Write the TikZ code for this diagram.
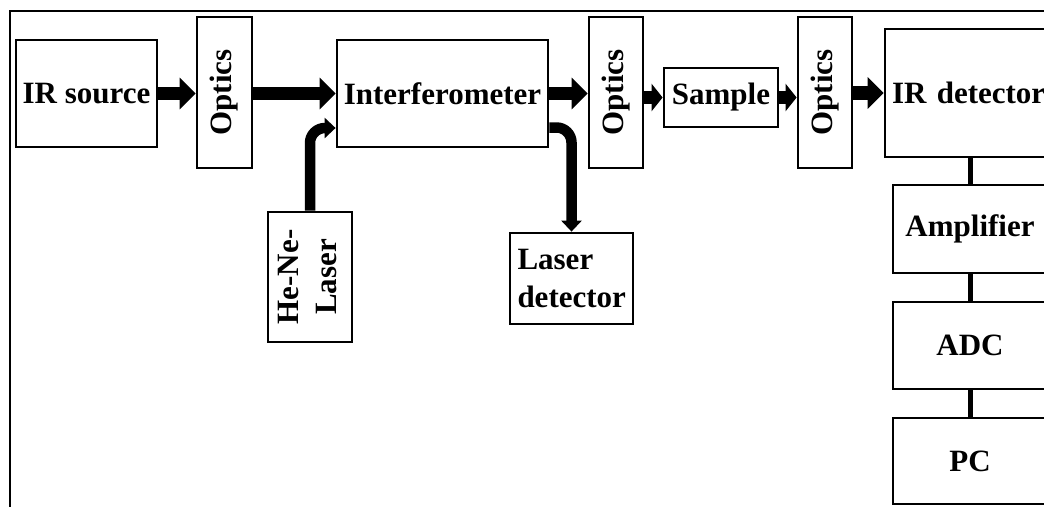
\documentclass[tikz,border=0pt]{standalone}
\usepackage{fontspec}
\usepackage{graphicx}
\setmainfont{Liberation Serif}
\usetikzlibrary{arrows.meta}
\begin{document}
\begin{tikzpicture}[x=1pt,y=-1pt,
  box/.style={draw, line width=2.8pt, inner sep=0pt, align=center,
    font=\fontsize{31}{38}\selectfont\bfseries},
  bigarrow/.style={line width=13.5pt, -{Triangle[length=16pt,width=31pt]}},
  smallarrow/.style={line width=13pt, -{Triangle[length=11pt,width=27pt]}},
  thinarrow/.style={line width=10.5pt, -{Triangle[length=11pt,width=20pt]}, rounded corners=15pt},
  link/.style={line width=5pt},
  frameline/.style={line width=2pt}]
\useasboundingbox (0,0) rectangle (1044,506);
\clip (0,0) rectangle (1044,506);
\fill[white] (0,0) rectangle (1044,506);

\coordinate (f1) at (10,510);
\coordinate (f2) at (10,11);
\coordinate (f3) at (1050,11);
\draw[frameline] (f1) -- (f2) -- (f3);

\node[box, minimum width=141pt, minimum height=107pt] (irs) at (86.5,93.5) {IR source};
\node[box, minimum width=55pt, minimum height=151pt] (opt1) at (224.5,92.5) {\rotatebox{90}{Optics}};
\node[box, minimum width=211pt, minimum height=107pt] (interf) at (442.5,93.5) {Interferometer};
\node[box, minimum width=54pt, minimum height=151pt] (opt2) at (616,92.5) {\rotatebox{90}{Optics}};
\node[box, minimum width=114pt, minimum height=59pt] (sample) at (721,97.5) {Sample};
\node[box, minimum width=54pt, minimum height=151pt] (opt3) at (825,92.5) {\rotatebox{90}{Optics}};
\node[box, text width=172pt, inner xsep=7pt, align=left, minimum height=128pt] (ird) at (978,93) {IR detector};
\node[box, minimum width=154pt, minimum height=88pt] (amp) at (970,229) {Amplifier};
\node[box, minimum width=154pt, minimum height=87pt] (adc) at (970,345.5) {ADC};
\node[box, minimum width=154pt, minimum height=86pt] (pc) at (970,461) {PC};
\node[box, minimum width=84pt, minimum height=130pt] (he) at (310,277)
  {\rotatebox{90}{\begin{tabular}{@{}c@{}}He-Ne-\\Laser\end{tabular}}};
\node[box, text width=108pt, inner xsep=7.5pt, align=left, minimum height=91pt] (ld) at (571.5,278.5)
  {Laser\\detector};

\draw[bigarrow] (irs.east) -- (irs.east -| opt1.west);
\draw[bigarrow] (opt1.east |- interf.west) -- (interf.west);
\draw[bigarrow] (interf.east) -- (interf.east -| opt2.west);
\draw[smallarrow] (sample.west -| opt2.east) -- (sample.west);
\draw[smallarrow] (sample.east) -- (sample.east -| opt3.west);
\draw[bigarrow] (opt3.east |- ird.west) -- (ird.west);
\draw[thinarrow] (he.north) |- ([yshift=-34.5pt]interf.west);
\draw[thinarrow] ([yshift=-34pt]interf.east) -| (ld.north);
\draw[link] (ird.south -| amp.north) -- (amp.north);
\draw[link] (amp.south) -- (adc.north);
\draw[link] (adc.south) -- (pc.north);
\end{tikzpicture}
\end{document}
